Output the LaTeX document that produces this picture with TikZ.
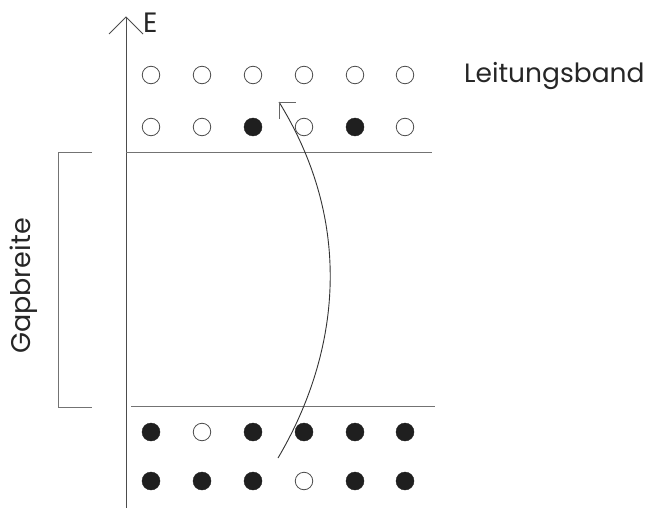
\documentclass[tikz,border=0pt]{standalone}
\usepackage{fontspec}
\setmainfont{Poppins}
\begin{document}
\begin{tikzpicture}[x=1pt,y=-1pt,
  ln/.style={draw=black!55,line width=0.9pt},
  ax/.style={draw=black!70,line width=1pt},
  full/.style={circle,minimum size=18pt,inner sep=0pt,fill=black!88,draw=black!88},
  empty/.style={circle,minimum size=17.5pt,inner sep=0pt,draw=black!70,line width=0.8pt,fill=white},
  lab/.style={text=black!85,inner sep=0pt}]
\useasboundingbox (0,0) rectangle (645,508);
% axis
\coordinate (axb) at (126,508);
\coordinate (axt) at (126,17);
\draw[ax] (axb) -- (axt);
\draw[ax] (109,34) -- (axt) -- (143,34);
\node[lab,font=\fontsize{28}{28}\selectfont,anchor=west] (E) at (143,23) {E};
% band lines
\coordinate (lb1) at (126,152); \coordinate (lb2) at (432,152);
\coordinate (vb1) at (131,406); \coordinate (vb2) at (435,406);
\draw[ln] (lb1) -- (lb2);
\draw[ln] (vb1) -- (vb2);
% bracket
\coordinate (br1) at (92,152); \coordinate (br2) at (58,152);
\coordinate (br3) at (58,407); \coordinate (br4) at (92,407);
\draw[ln] (br1) -- (br2) -- (br3) -- (br4);
\node[lab,font=\fontsize{27}{27}\selectfont,rotate=90] (gap) at (24,286) {Gapbreite};
\node[lab,font=\fontsize{26.5}{26.5}\selectfont,anchor=west] (lband) at (464,76) {Leitungsband};
% circles
\foreach \x/\s [count=\i] in {151/empty,202/empty,253/empty,304/empty,355/empty,405/empty}
  \node[\s] (a\i) at (\x,75) {};
\foreach \x/\s [count=\i] in {151/empty,202/empty,253/full,304/empty,355/full,405/empty}
  \node[\s] (b\i) at (\x,127) {};
\foreach \x/\s [count=\i] in {151/full,202/empty,253/full,304/full,355/full,405/full}
  \node[\s] (c\i) at (\x,432) {};
\foreach \x/\s [count=\i] in {151/full,202/full,253/full,304/empty,355/full,405/full}
  \node[\s] (d\i) at (\x,481) {};
% transition arrow
\coordinate (s) at (278,458);
\coordinate (t) at (279,102);
\draw[draw=black!80,line width=0.9pt] (s) .. controls (336,360) and (358,230) .. (t);
\draw[draw=black!60,line width=0.9pt] (279,119) -- (t) -- (296,102);
\end{tikzpicture}
\end{document}
